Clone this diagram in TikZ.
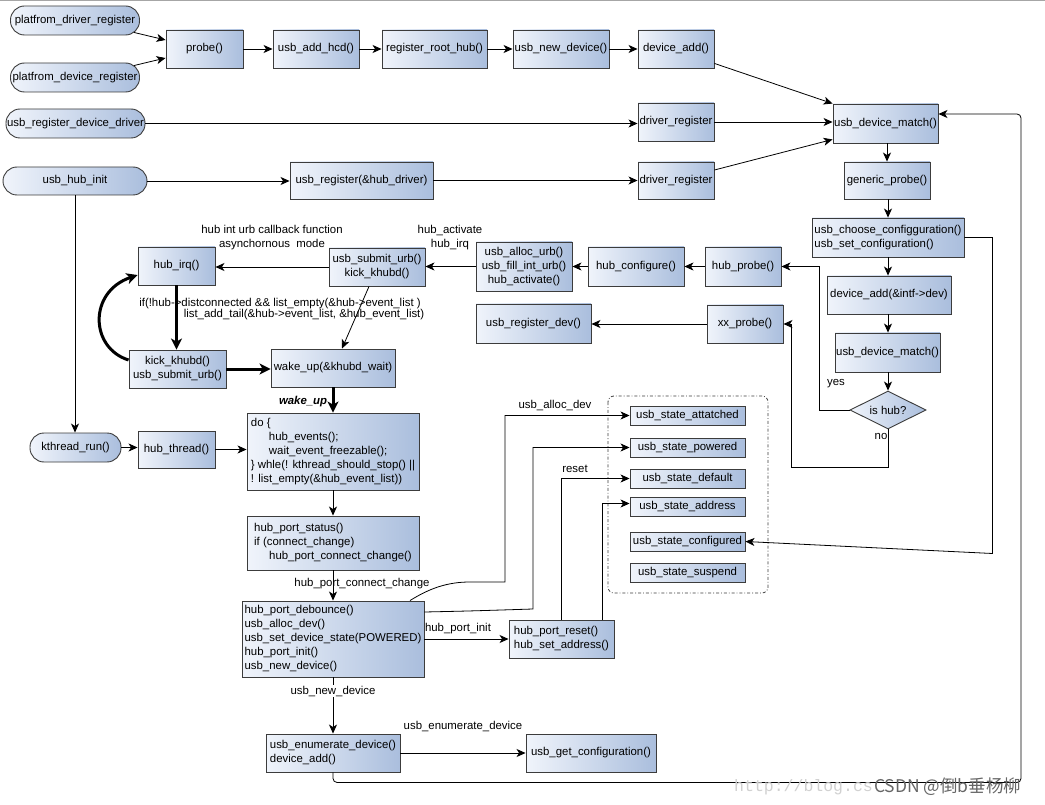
\documentclass[tikz,border=0pt]{standalone}
\usepackage{fontspec}
\setmainfont{Liberation Sans}
\newfontfamily\cjkfont{Noto Sans CJK SC}
\newfontfamily\wmfont{Liberation Mono}
\usetikzlibrary{arrows.meta,shapes.geometric,calc}
\definecolor{boxL}{RGB}{240,244,251}
\definecolor{boxR}{RGB}{170,190,221}
\definecolor{edgegray}{RGB}{60,60,60}
\newcommand\dfont{\fontsize{11.4}{14}\selectfont}
\begin{document}
\begin{tikzpicture}[x=1pt,y=-1pt,
  font=\dfont,
  bx/.style={draw=edgegray, line width=0.9pt, left color=boxL, right color=boxR, inner sep=1pt, align=center},
  bxl/.style={bx, align=left},
  pill/.style={bx, rounded corners=14pt},
  sz/.style 2 args={minimum width=#1pt, minimum height=#2pt},
  stbox/.style={bx, minimum width=115pt, minimum height=19pt},
  arr/.style={-{Stealth[length=9pt,width=8pt,inset=2.5pt]}, line width=0.8pt},
  thk/.style={-{Stealth[length=11pt,width=11pt,inset=3pt]}, line width=3pt},
  plain/.style={line width=0.8pt},
  lbl/.style={inner sep=0pt, align=center}
]
\fill[white] (0,0) rectangle (1045,805);
\useasboundingbox (0,0) rectangle (1045,805);
\draw[black!35, line width=1pt] (0,1) -- (1045,1);

% ---- nodes ----
\node[pill, sz={129}{29}] (pdr) at (75,20.5) {platfrom\_driver\_register};
\node[pill, sz={129}{29}] (pdv) at (75,77.5) {platfrom\_device\_register};
\node[bx, sz={77}{38}] (probe) at (204.5,49) {probe()};
\node[bx, sz={86}{38}] (addhcd) at (316,49) {usb\_add\_hcd()};
\node[bx, sz={105}{38}] (rrh) at (434.5,49) {register\_root\_hub()};
\node[bx, sz={96}{38}] (newdev) at (561,49) {usb\_new\_device()};
\node[bx, sz={76}{38}] (devadd) at (676,49) {device\_add()};
\node[pill, sz={139}{29}] (urdd) at (75.5,123.5) {usb\_register\_device\_driver};
\node[bx, sz={76}{38}] (dr1) at (676,122) {driver\_register};
\node[bx, sz={105}{39}] (match1) at (885.5,123.5) {usb\_device\_match()};
\node[pill, sz={144}{28}] (hubinit) at (75,181) {usb\_hub\_init};
\node[bx, sz={143}{37}] (ureg) at (361.5,180.5) {usb\_register(\&hub\_driver)};
\node[bx, sz={76}{37}] (dr2) at (676,180.5) {driver\_register};
\node[bx, sz={86}{37}] (gprobe) at (887,180.5) {generic\_probe()};
\node[bxl, sz={152}{39}] (choose) at (888,237.5) {usb\_choose\_configguration()\\usb\_set\_configuration()};
\node[bx, sz={76}{39}] (hubprobe) at (743,266.5) {hub\_probe()};
\node[bx, sz={96}{39}] (hubcfg) at (636,266.5) {hub\_configure()};
\node[bx, sz={96}{49}] (allocurb) at (524,266.5) {usb\_alloc\_urb()\\usb\_fill\_int\_urb()\\hub\_activate()};
\node[bx, sz={96}{38}] (submit) at (377,267) {usb\_submit\_urb()\\kick\_khubd()};
\node[bx, sz={77}{38}] (hubirq) at (176.5,266) {hub\_irq()};
\node[bx, sz={124}{38}] (devadd2) at (889,295) {device\_add(\&intf->dev)};
\node[bx, sz={76}{38}] (xxprobe) at (745,324) {xx\_probe()};
\node[bx, sz={115}{39}] (regdev) at (533.5,323.5) {usb\_register\_dev()};
\node[bx, sz={105}{39}] (match2) at (887.5,352.5) {usb\_device\_match()};
\node[diamond, draw=edgegray, line width=0.9pt, left color=boxL, right color=boxR, minimum width=76pt, minimum height=38pt, inner sep=0pt, aspect=2] (ishub) at (888,410) {is hub?};
\node[bx, sz={97}{38}] (kick) at (177.5,369) {kick\_khubd()\\usb\_submit\_urb()};
\node[bx, sz={124}{38}] (wake) at (333,368) {wake\_up(\&khubd\_wait)};
\node[pill, sz={91}{29}] (kthread) at (75.5,447.5) {kthread\_run()};
\node[bx, sz={77}{37}] (hthread) at (176.5,449.5) {hub\_thread()};
\node[bxl, sz={172}{77}] (doloop) at (333,451.5) {do \{\\\hspace*{18pt}hub\_events();\\\hspace*{18pt}wait\_event\_freezable();\\\} whle(! kthread\_should\_stop() ||\\! list\_empty(\&hub\_event\_list))};
\node[bxl, sz={172}{54}] (status) at (333,543) {hub\_port\_status()\\if (connect\_change)\\\hspace*{15pt}hub\_port\_connect\_change()};
\node[bxl, sz={182}{76}] (debounce) at (333,639) {hub\_port\_debounce()\\usb\_alloc\_dev()\\usb\_set\_device\_state(POWERED)\\hub\_port\_init()\\usb\_new\_device()};
\node[bxl, sz={105}{38}] (reset) at (561.5,639) {hub\_port\_reset()\\hub\_set\_address()};
\node[bxl, sz={134}{38}] (enum) at (333,753) {usb\_enumerate\_device()\\device\_add()};
\node[bx, sz={130}{38}] (getcfg) at (591,753) {usb\_get\_configuration()};

% state container
\draw[edgegray, line width=0.8pt, dash dot, rounded corners=6pt] (608,396) rectangle (768,593);
\node[stbox] (att) at (687.5,415.5) {usb\_state\_attatched};
\node[stbox] (pow) at (687.5,447.5) {usb\_state\_powered};
\node[stbox] (def) at (687.5,478.5) {usb\_state\_default};
\node[stbox] (addr) at (687.5,506.5) {usb\_state\_address};
\node[stbox] (conf) at (687.5,541.5) {usb\_state\_configured};
\node[stbox] (susp) at (687.5,572.5) {usb\_state\_suspend};

% ---- connectors ----
\draw[arr] ([xshift=-6pt,yshift=3pt]pdr.south east) -- ([yshift=9pt]probe.west);
\draw[arr] ([xshift=-6pt,yshift=-3pt]pdv.north east) -- ([yshift=-9pt]probe.west);
\draw[arr] (probe) -- (addhcd);
\draw[arr] (addhcd) -- (rrh);
\draw[arr] (rrh) -- (newdev);
\draw[arr] (newdev) -- (devadd);
\draw[arr] ([yshift=5pt]devadd.south east) -- (match1.north west);
\draw[arr] (urdd.east) -- (urdd.east -| dr1.west);
\draw[arr] (dr1.east) -- (dr1.east -| match1.west);
\draw[arr] (hubinit.east) -- (hubinit.east -| ureg.west);
\draw[arr] (ureg) -- (dr2);
\draw[arr] ([yshift=10.5pt]dr2.east) -- ([yshift=4pt]match1.south west);
\draw[arr] (match1.south -| gprobe.south) -- (gprobe.north);
\draw[arr] (gprobe.south -| choose.south) -- (choose.north);
\draw[arr] (choose.south) -- (choose.south |- devadd2.north);
\draw[arr] (devadd2.south -| choose.south) -- (choose.south |- match2.north);
\draw[arr] (match2.south -| ishub.north) -- (ishub.north);
\draw[arr] (ishub.west) -| ([xshift=38pt]hubprobe.east) -- (hubprobe.east);
\draw[arr] (ishub.south) -- ++(0,38) -| ([xshift=8pt]xxprobe.east) -- (xxprobe.east);
\node[lbl, anchor=south] at (836,388) {yes};
\node[lbl, anchor=north] at (881,433) {no};
\draw[arr] (choose.east) -- ++(28,0) -- ++(0,316) -- (conf.east);
\draw[arr, rounded corners=4pt] (enum.south) -- ++(0,10) -- ++(688,0) |- ([yshift=9.5pt]match1.east);

\draw[arr] (hubprobe.west) -- (hubprobe.west -| hubcfg.east);
\draw[arr] (hubcfg.west) -- (hubcfg.west -| allocurb.east);
\draw[arr] (allocurb.west) -- (allocurb.west -| submit.east);
\draw[arr] (submit.west) -- (submit.west -| hubirq.east);
\draw[arr] (xxprobe.west) -- (xxprobe.west -| regdev.east);
\draw[arr] ([xshift=-8pt]submit.south) -- ([xshift=9pt]wake.north);
\node[lbl] at (272,238) {hub int urb callback function\\asynchornous~ mode};
\node[lbl] at (450,238) {hub\_activate\\hub\_irq};

\draw[thk] (hubirq.south) -- (hubirq.south |- kick.north);
\draw[thk] (kick.east) -- (kick.east -| wake.west);
\draw[thk] ([yshift=9pt]kick.west) .. controls (90,348) and (88,292) .. ([yshift=-9pt]hubirq.west);
\draw[thk] (wake.south) -- (doloop.north) node[pos=0.55, left=1pt, font=\dfont\bfseries\itshape] {wake\_up};
\node[lbl] at (280,304) {if(!hub->distconnected \&\& list\_empty(\&hub->event\_list )};
\node[lbl] at (304,314.5) {list\_add\_tail(\&hub->event\_list, \&hub\_event\_list)};

\draw[arr] (hubinit.south) -- (hubinit.south |- kthread.north);
\draw[arr] (kthread.east) -- (kthread.east -| hthread.west);
\draw[arr] (hthread.east) -- (hthread.east -| doloop.west);
\draw[arr] (doloop.south) -- (status.north);
\draw[arr] (status.south) -- (debounce.north);
\node[lbl] at (362,584) {hub\_port\_connect\_change};
\draw[arr] (debounce.east) -- (reset.west);
\node[lbl] at (458,629) {hub\_port\_init};
\draw[arr] (debounce.south) -- (enum.north);
\node[lbl, fill=white, inner sep=0.5pt] at (333,691) {usb\_new\_device};
\draw[arr] (enum.east) -- (enum.east -| getcfg.west);
\node[lbl] at (463,726) {usb\_enumerate\_device};

\draw[arr] ([xshift=77pt]debounce.north) .. controls (430,588) and (448,582) .. (470,582) -- (505,582) |- (att.west);
\node[lbl] at (555,406) {usb\_alloc\_dev};
\draw[arr] ([yshift=27pt]debounce.east) .. controls (470,611) .. (533,609) |- (pow.west);
\draw[arr] (reset.north) |- (def.west);
\node[lbl] at (575,469) {reset};
\draw[arr] ([xshift=40.5pt]reset.north) |- ([yshift=3pt]addr.west);

% watermark
\node[anchor=west, inner sep=0pt, text=black!18, font=\wmfont\fontsize{16.5}{17}\selectfont] at (734,787) {http://blog.cs};
\node[anchor=west, inner sep=0pt, text=black!60, font=\cjkfont\fontsize{17.5}{18}\selectfont] at (874,787) {CSDN @倒b垂杨柳};
\end{tikzpicture}
\end{document}
